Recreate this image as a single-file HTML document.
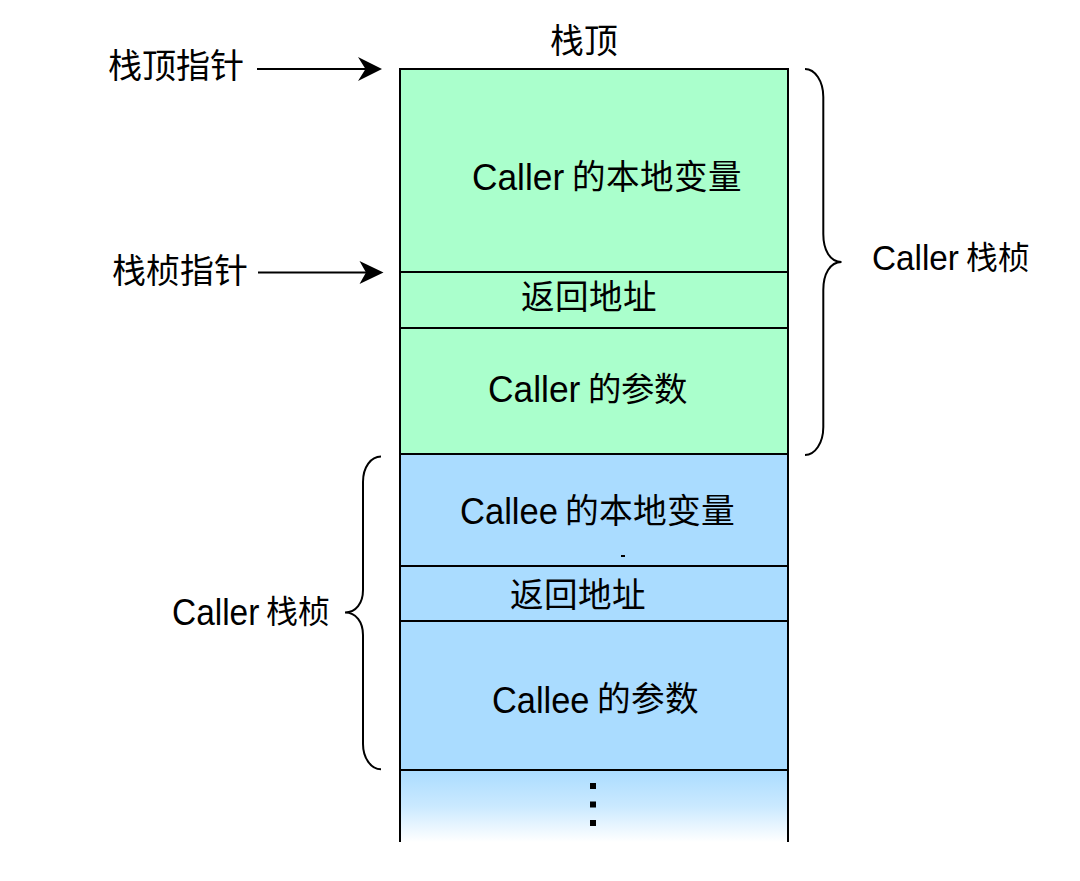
<!DOCTYPE html>
<html lang="zh-CN">
<head>
<meta charset="utf-8">
<style>
html,body{margin:0;padding:0;background:#ffffff;}
body{width:1080px;height:881px;position:relative;overflow:hidden;font-family:"Liberation Sans",sans-serif;color:#000;}
svg{position:absolute;left:0;top:0;}
.t{position:absolute;white-space:nowrap;}
</style>
</head>
<body>
<svg width="1080" height="881" viewBox="0 0 1080 881">
  <defs>
    <linearGradient id="g" x1="0" y1="0" x2="0" y2="1">
      <stop offset="0" stop-color="#aadcff"/>
      <stop offset="0.5" stop-color="#cae9ff"/>
      <stop offset="1" stop-color="#ffffff"/>
    </linearGradient>
  </defs>
  <!-- fills -->
  <rect x="400" y="69" width="388" height="385" fill="#aaffcc"/>
  <rect x="400" y="454" width="388" height="316" fill="#aadcff"/>
  <rect x="400" y="770" width="388" height="72" fill="url(#g)"/>
  <!-- borders -->
  <g stroke="#000" stroke-width="2" fill="none">
    <path d="M399 69H789"/>
    <path d="M400 68V842"/>
    <path d="M788 68V842"/>
    <path d="M400 272H788"/>
    <path d="M400 328H788"/>
    <path d="M400 454H788"/>
    <path d="M400 566H788"/>
    <path d="M400 621H788"/>
    <path d="M400 770H788"/>
    <!-- arrows -->
    <path d="M257 69H368"/>
    <path d="M258 272.5H369"/>
    <!-- right brace -->
    <path d="M805 69C815 69 823.3 81 823.3 97V234C823.3 250 830 262 841.5 262C830 262 823.3 274 823.3 290V427C823.3 443 815 455 805 455"/>
    <!-- left brace -->
    <path d="M381 456.5C371 456.5 363 467 363 482V590C363 603 356 612.5 345 612.5C356 612.5 363 622 363 635V744C363 758 371 769.3 381 769.3"/>
  </g>
  <path d="M382 69L358 57L365.5 69L358 81Z" fill="#000"/>
  <path d="M383.5 272.5L359.5 261L366 272.5L359.5 284Z" fill="#000"/>
  <!-- dots -->
  <rect x="590" y="783" width="6" height="6" fill="#000"/>
  <rect x="590" y="801.5" width="6" height="6" fill="#000"/>
  <rect x="590" y="820" width="6" height="6" fill="#000"/>
  <rect x="621" y="555" width="4" height="2" fill="#000"/>
</svg>
<!--TEXT-->
<div class="t" style="left:583.64px;top:24.61px;font-size:33.81px;line-height:33.81px;transform:translateX(-50%)">栈顶</div>
<div class="t" style="left:176.03px;top:49.17px;font-size:34.1px;line-height:34.1px;transform:translateX(-50%)">栈顶指针</div>
<div class="t" style="left:180.12px;top:254.74px;font-size:33.95px;line-height:33.95px;transform:translateX(-50%)">栈桢指针</div>
<div class="t" style="left:472.24px;top:159.44px;font-size:37.16px;line-height:37.16px;transform:scaleX(0.95);transform-origin:0 0">Caller</div>
<div class="t" style="left:656.97px;top:160.73px;font-size:33.55px;line-height:33.55px;transform:translateX(-50%)">的本地变量</div>
<div class="t" style="left:588.69px;top:281.22px;font-size:33.57px;line-height:33.57px;transform:translateX(-50%)">返回地址</div>
<div class="t" style="left:488.03px;top:371.41px;font-size:37.43px;line-height:37.43px;transform:scaleX(0.945);transform-origin:0 0">Caller</div>
<div class="t" style="left:637.58px;top:372.89px;font-size:33.42px;line-height:33.42px;transform:translateX(-50%)">的参数</div>
<div class="t" style="left:872.04px;top:241.3px;font-size:35.81px;line-height:35.81px;transform:scaleX(0.93);transform-origin:0 0">Caller</div>
<div class="t" style="left:998.02px;top:242.81px;font-size:31.8px;line-height:31.8px;transform:translateX(-50%)">栈桢</div>
<div class="t" style="left:459.97px;top:493.28px;font-size:37.7px;line-height:37.7px;transform:scaleX(0.917);transform-origin:0 0">Callee</div>
<div class="t" style="left:650.25px;top:494.74px;font-size:33.75px;line-height:33.75px;transform:translateX(-50%)">的本地变量</div>
<div class="t" style="left:578.28px;top:579.36px;font-size:33.6px;line-height:33.6px;transform:translateX(-50%)">返回地址</div>
<div class="t" style="left:492.08px;top:681.62px;font-size:37.3px;line-height:37.3px;transform:scaleX(0.922);transform-origin:0 0">Callee</div>
<div class="t" style="left:648.27px;top:682.94px;font-size:33.63px;line-height:33.63px;transform:translateX(-50%)">的参数</div>
<div class="t" style="left:172.03px;top:595.02px;font-size:36.49px;line-height:36.49px;transform:scaleX(0.916);transform-origin:0 0">Caller</div>
<div class="t" style="left:297.91px;top:596.77px;font-size:31.97px;line-height:31.97px;transform:translateX(-50%)">栈桢</div>
<!--/TEXT-->
</body>
</html>
